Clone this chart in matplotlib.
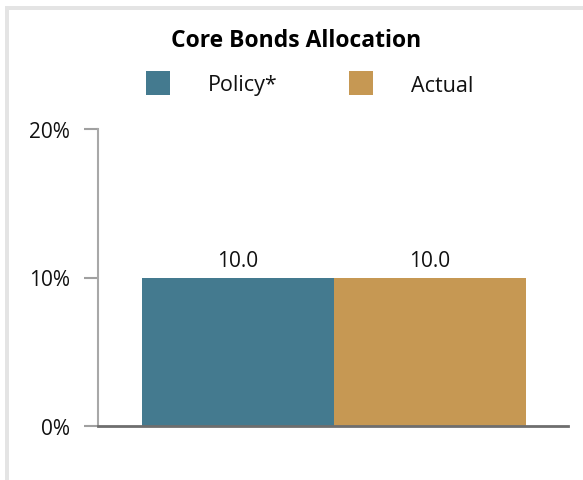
import matplotlib
matplotlib.use("Agg")
import matplotlib.pyplot as plt
from matplotlib.patches import Rectangle

series = ["Policy*", "Actual"]
values = [10.0, 10.0]
colors = ["#447A8F", "#C69853"]
yticks = [0, 10, 20]
ytick_labels = ["0%", "10%", "20%"]
title = "Core Bonds Allocation"

plt.rcParams["font.family"] = ["Open Sans", "DejaVu Sans"]

W, H = 583, 481
fig = plt.figure(figsize=(W / 100, H / 100), dpi=100)

# light gray frame along the top and left edges
fig.patches.append(Rectangle((5 / W, 0), 4 / W, (H - 7) / H, transform=fig.transFigure,
                             color="#e4e4e4", lw=0, zorder=0))
fig.patches.append(Rectangle((5 / W, (H - 11) / H), (W - 5) / W, 4 / H, transform=fig.transFigure,
                             color="#e4e4e4", lw=0, zorder=0))

ax = fig.add_axes([98 / W, (H - 427) / H, 470 / W, 297 / H])
x = list(range(len(values)))
bars = ax.bar(x, values, width=1.0, align="edge", color=colors, zorder=2)
for b, v in zip(bars, values):
    ax.annotate(f"{v:.1f}", (b.get_x() + b.get_width() / 2, v), xytext=(0, 5),
                textcoords="offset points", ha="center", va="bottom", fontsize=15, color="#111111")

ax.set_xlim(-44 / 192, 2 + 42 / 192)
ax.set_ylim(0, 20)
ax.set_yticks(yticks)
ax.set_yticklabels(ytick_labels, fontsize=15, color="#111111")
ax.set_xticks([])
ax.tick_params(axis="y", length=10, width=1.5, color="#a0a0a0", pad=10)
for s in ["top", "right"]:
    ax.spines[s].set_visible(False)
ax.spines["left"].set_color("#a8a8a8")
ax.spines["left"].set_linewidth(1.5)
ax.spines["bottom"].set_color("#6e6e6e")
ax.spines["bottom"].set_linewidth(2)
ax.spines["bottom"].set_zorder(3)

fig.text(296 / W, 1 - 41 / H, title, ha="center", va="center", fontsize=16.5,
         fontweight="bold", color="#000000")

# legend drawn as squares plus labels
legend_pos = [(146, 208), (349, 411)]
for (px, tx), name, c in zip(legend_pos, series, colors):
    fig.patches.append(Rectangle((px / W, 1 - 96 / H), 24 / W, 24 / H,
                                 transform=fig.transFigure, color=c, lw=0))
    fig.text(tx / W, 1 - 86 / H, name, ha="left", va="center", fontsize=15.5, color="#111111")

fig.savefig("out.png", dpi=100, facecolor="white")
